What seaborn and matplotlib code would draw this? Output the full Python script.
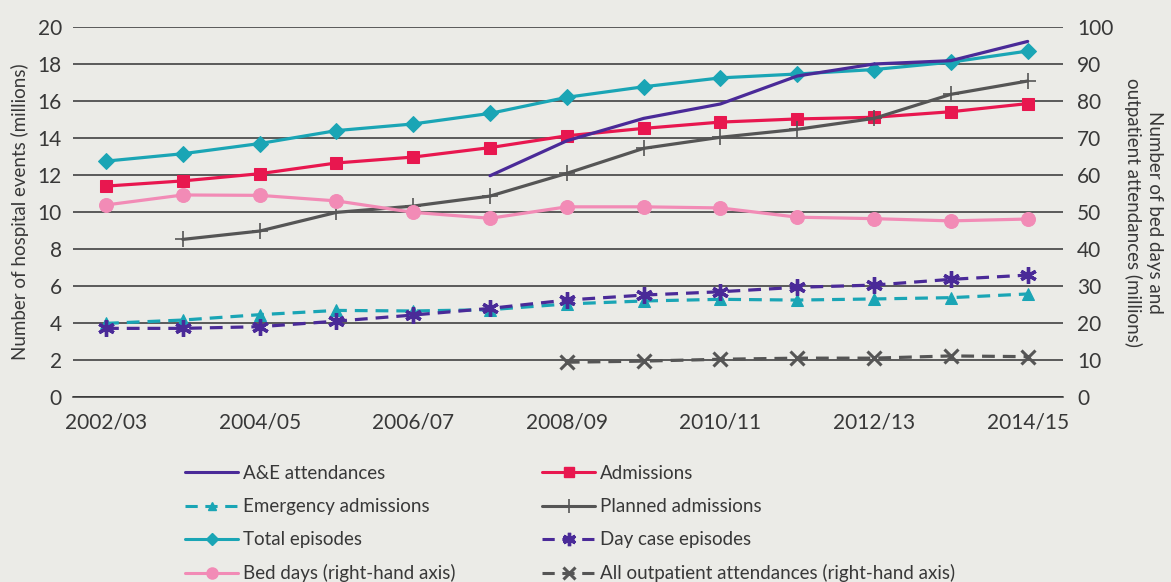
import numpy as np
import pandas as pd
import matplotlib
matplotlib.use("Agg")
import matplotlib.pyplot as plt
import seaborn as sns
from matplotlib.lines import Line2D

years = ["2002/03", "2003/04", "2004/05", "2005/06", "2006/07", "2007/08", "2008/09",
         "2009/10", "2010/11", "2011/12", "2012/13", "2013/14", "2014/15"]
tick_labels = ["2002/03", "", "2004/05", "", "2006/07", "", "2008/09", "", "2010/11", "", "2012/13", "", "2014/15"]

ae_attendances = [np.nan, np.nan, np.nan, np.nan, np.nan, 11.96, 13.85, 15.06, 15.84, 17.35, 18.0, 18.18, 19.22]
admissions = [11.4, 11.68, 12.07, 12.65, 12.97, 13.48, 14.12, 14.52, 14.86, 15.03, 15.12, 15.42, 15.86]
emergency_admissions = [3.98, 4.16, 4.45, 4.68, 4.65, 4.72, 5.03, 5.19, 5.28, 5.24, 5.3, 5.37, 5.57]
planned_admissions = [np.nan, 8.52, 8.97, 9.98, 10.32, 10.86, 12.09, 13.44, 14.04, 14.47, 15.06, 16.36, 17.08]
total_episodes = [12.75, 13.15, 13.7, 14.4, 14.76, 15.33, 16.2, 16.77, 17.25, 17.46, 17.7, 18.1, 18.7]
day_case_episodes = [3.71, 3.71, 3.8, 4.1, 4.43, 4.79, 5.24, 5.51, 5.69, 5.93, 6.05, 6.36, 6.59]
bed_days = [51.9, 54.6, 54.5, 53.0, 49.9, 48.3, 51.4, 51.4, 51.1, 48.6, 48.2, 47.6, 48.1]
outpatient_attendances = [np.nan] * 6 + [9.4, 9.7, 10.2, 10.5, 10.5, 11.1, 10.9]

C_PURPLE = "#4a2a98"
C_RED = "#e8174f"
C_TEAL = "#1aa5b5"
C_GREY = "#555555"
C_PINK = "#f28bb6"
BG = "#ebebe7"
TXT = "#383838"

sns.set_style("white")
plt.rcParams["font.family"] = ["Lato", "DejaVu Sans"]

fig = plt.figure(figsize=(11.71, 5.82), dpi=100, facecolor=BG)
ax = fig.add_axes([73 / 1171, 1 - 397 / 582, (1063 - 73) / 1171, (397 - 27) / 582])
ax.set_facecolor(BG)
ax2 = ax.twinx()

x = np.arange(len(years))

def df(vals):
    return pd.DataFrame({"x": x, "y": vals}).dropna()

ax.set_ylim(0, 20)
ax2.set_ylim(0, 100)
ax.set_xlim(-0.43, 12.46)
ax2.set_xlim(-0.43, 12.46)
ax.set_yticks(np.arange(0, 21, 2))
ax2.set_yticks(np.arange(0, 101, 10))
ax.grid(axis="y", color="#333333", linewidth=1.1)
ax.set_axisbelow(True)

DASH = (0, (4, 2.5))
specs = {
    "A&E attendances": (ae_attendances, ax, dict(color=C_PURPLE, marker="None", linestyle="-")),
    "Emergency admissions": (emergency_admissions, ax, dict(color=C_TEAL, marker="^", markersize=8, linestyle=DASH)),
    "Total episodes": (total_episodes, ax, dict(color=C_TEAL, marker="D", markersize=8, linestyle="-")),
    "Admissions": (admissions, ax, dict(color=C_RED, marker="s", markersize=9, linestyle="-")),
    "Planned admissions": (planned_admissions, ax, dict(color=C_GREY, marker="+", markersize=12, markeredgewidth=1.2, linestyle="-")),
    "Day case episodes": (day_case_episodes, ax, dict(color=C_PURPLE, marker=(6, 2, 0), markersize=12, markeredgewidth=2.4, linestyle=DASH)),
    "Bed days (right-hand axis)": (bed_days, ax2, dict(color=C_PINK, marker="o", markersize=10, linestyle="-")),
    "All outpatient attendances (right-hand axis)": (outpatient_attendances, ax2, dict(color=C_GREY, marker="x", markersize=10, markeredgewidth=2.2, linestyle=DASH)),
}

draw_order = ["Bed days (right-hand axis)", "Total episodes", "Admissions", "Planned admissions",
              "A&E attendances", "Emergency admissions", "Day case episodes",
              "All outpatient attendances (right-hand axis)"]
handles = {}
for label in draw_order:
    vals, target, st = specs[label]
    st = dict(st)
    color = st.pop("color")
    ls = st.pop("linestyle")
    sns.lineplot(data=df(vals), x="x", y="y", ax=target, color=color, linewidth=2.3,
                 linestyle=ls, markeredgecolor=color, markerfacecolor=color, **st)
    hst = {k: (v * 0.8 if k == "markersize" else v) for k, v in st.items()}
    handles[label] = Line2D([], [], color=color, linewidth=2.2, linestyle=ls,
                            markeredgecolor=color, markerfacecolor=color, **hst)

ax.set_xticks(x)
ax.set_xticklabels(tick_labels)
ax.set_xlabel("")
ax.set_ylabel("Number of hospital events (millions)", fontsize=13.5, color=TXT, labelpad=6)
ax2.set_ylabel("Number of bed days and\noutpatient attendances (millions)", fontsize=13.5,
               color=TXT, rotation=270, labelpad=36, linespacing=1.3)

for a in (ax, ax2):
    for s in a.spines.values():
        s.set_visible(False)
ax.spines["bottom"].set_visible(True)
ax.spines["bottom"].set_color("#333333")
ax.spines["bottom"].set_linewidth(1.1)
ax.tick_params(axis="x", length=7, width=1.1, color="#333333", labelsize=15, labelcolor=TXT, pad=4)
ax.tick_params(axis="y", length=0, labelsize=15, labelcolor=TXT, pad=8)
ax2.tick_params(axis="y", length=0, labelsize=15, labelcolor=TXT, pad=10)

col1 = ["A&E attendances", "Emergency admissions", "Total episodes", "Bed days (right-hand axis)"]
col2 = ["Admissions", "Planned admissions", "Day case episodes",
        "All outpatient attendances (right-hand axis)"]
FS = 13.5
fs_px = FS * 100 / 72
common = dict(loc="upper left", frameon=False, fontsize=FS, handlelength=53 / fs_px,
              handletextpad=5 / fs_px, labelspacing=0.86, borderpad=0, borderaxespad=0,
              labelcolor=TXT)
leg1 = fig.legend([handles[k] for k in col1], col1,
                  bbox_to_anchor=(185 / 1171, 1 - 465 / 582), **common)
leg2 = fig.legend([handles[k] for k in col2], col2,
                  bbox_to_anchor=(542 / 1171, 1 - 465 / 582), **common)

fig.savefig("out.png", dpi=100, facecolor=BG)
